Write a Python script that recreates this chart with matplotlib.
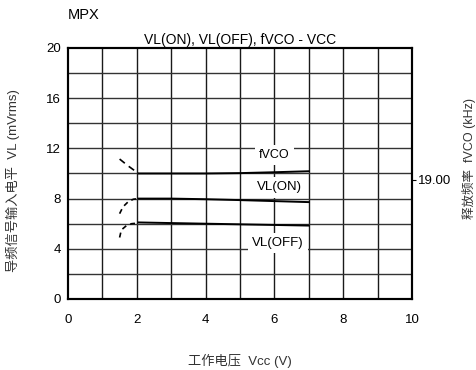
"""
MPX: VL(ON), VL(OFF), fVCO vs Vcc characteristic chart.
"""

import matplotlib
matplotlib.use("Agg")
import matplotlib.pyplot as plt

plt.rcParams["font.family"] = ["Liberation Sans", "Noto Sans CJK SC", "DejaVu Sans"]

# --- Data ---
# fVCO curve (plotted on the left scale)
fvco_dash_x = [1.5, 1.75, 2.05]
fvco_dash_y = [11.15, 10.6, 10.0]
fvco_x = [2.05, 3.0, 4.0, 5.0, 6.0, 7.0]
fvco_y = [10.0, 10.0, 10.0, 10.03, 10.1, 10.18]

# VL(ON)
von_dash_x = [1.5, 1.6, 1.75, 1.9, 2.05]
von_dash_y = [6.8, 7.35, 7.75, 7.95, 8.0]
von_x = [2.05, 3.0, 4.0, 5.0, 6.0, 7.0]
von_y = [8.0, 8.0, 7.95, 7.88, 7.8, 7.72]

# VL(OFF)
voff_dash_x = [1.5, 1.55, 1.7, 1.85, 2.05]
voff_dash_y = [4.9, 5.5, 5.85, 6.0, 6.05]
voff_x = [2.05, 3.0, 4.0, 5.0, 6.0, 7.0]
voff_y = [6.1, 6.05, 6.0, 5.95, 5.9, 5.85]

x_ticks = [0, 2, 4, 6, 8, 10]
y_ticks = [0, 4, 8, 12, 16, 20]
right_tick_pos = [9.5]
right_tick_labels = ["19.00"]

fig = plt.figure(figsize=(4.77, 3.70), dpi=100)
ax = fig.add_axes([0.1426, 0.1919, 0.7211, 0.6784])

ax.set_xlim(0, 10)
ax.set_ylim(0, 20)

# grid every 1 V and every 2 mV
for gx in range(1, 10):
    ax.axvline(gx, color="#1a1a1a", lw=1.0, zorder=1)
for gy in range(2, 20, 2):
    ax.axhline(gy, color="#333333", lw=1.0, zorder=1)

ax.set_xticks(x_ticks)
ax.set_yticks(y_ticks)
ax.tick_params(length=0, labelsize=9.5)
ax.tick_params(axis="x", pad=11)
ax.tick_params(axis="y", pad=5)
for s in ax.spines.values():
    s.set_linewidth(1.5)
    s.set_zorder(5)

lw = 1.4
ax.plot(fvco_dash_x, fvco_dash_y, color="black", lw=1.2, ls=(0, (4, 3)), zorder=3)
ax.plot(fvco_x, fvco_y, color="black", lw=lw, zorder=3)
ax.plot(von_dash_x, von_dash_y, color="black", lw=1.2, ls=(0, (3, 2.5)), zorder=3)
ax.plot(von_x, von_y, color="black", lw=lw, zorder=3)
ax.plot(voff_dash_x, voff_dash_y, color="black", lw=1.2, ls=(0, (3, 2.5)), zorder=3)
ax.plot(voff_x, voff_y, color="black", lw=lw, zorder=3)

box = dict(facecolor="white", edgecolor="none", pad=3)
ax.text(6.0, 11.5, "fVCO", fontsize=9, ha="center", va="center", bbox=box, zorder=4)
ax.text(6.15, 8.9, "VL(ON)", fontsize=9.5, ha="center", va="center", bbox=box, zorder=4)
ax.text(6.1, 4.45, "VL(OFF)", fontsize=9.5, ha="center", va="center", bbox=box, zorder=4)

ax.set_title("VL(ON), VL(OFF), fVCO - VCC", fontsize=10, pad=3)
fig.text(0.1426, 0.96, "MPX", fontsize=10.5, ha="left", va="center")

ax.set_xlabel("工作电压  Vcc (V)", fontsize=9.5, color="#333333", labelpad=20)
ax.set_ylabel("导频信号输入电平  VL (mVrms)", fontsize=9.5, color="#333333")
ax.yaxis.set_label_coords(-0.14, 0.47)

ax2 = ax.twinx()
ax2.set_ylim(0, 20)
ax2.set_yticks(right_tick_pos)
ax2.set_yticklabels(right_tick_labels)
ax2.tick_params(length=3, labelsize=9.5, pad=1)
ax2.set_ylabel("释放频率  fVCO (kHz)", fontsize=9, color="#333333", rotation=90, va="center")
ax2.yaxis.set_label_coords(1.165, 0.56)
for s in ax2.spines.values():
    s.set_linewidth(1.5)

fig.savefig("out.png", dpi=100)
